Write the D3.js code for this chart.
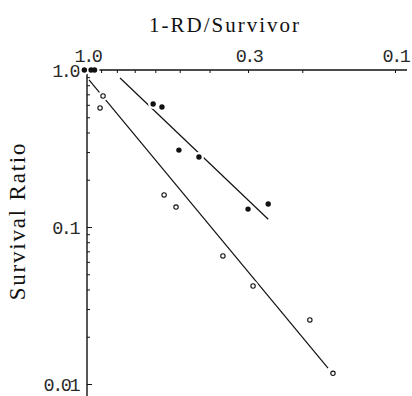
<!DOCTYPE html>
<html>
<head>
<meta charset="utf-8">
<script src="https://cdn.jsdelivr.net/npm/d3@7"></script>
<style>
  html, body { margin: 0; padding: 0; background: #fff; }
  svg { display: block; }
</style>
</head>
<body>
<svg id="chart" width="412" height="396"></svg>
<script>
// Filled markers: x = 1-RD/Survivor, y = survival ratio
const filledX = [1.02, 0.97, 0.945, 0.61, 0.571, 0.503, 0.433, 0.300, 0.258];
const filledY = [1.0, 1.0, 1.0, 0.607, 0.581, 0.309, 0.279, 0.130, 0.140];

// Open markers
const openX = [0.887, 0.907, 0.562, 0.514, 0.362, 0.289, 0.189, 0.159];
const openY = [0.683, 0.573, 0.160, 0.134, 0.0654, 0.0421, 0.0256, 0.0117];

// Fitted lines (end points)
const filledFitX = [0.781, 0.258];
const filledFitY = [0.889, 0.112];
const openFitX = [0.985, 0.165];
const openFitY = [0.864, 0.01264];

// Axis ticks and labels
const xTicks = [1.0, 0.9, 0.8, 0.7, 0.6, 0.5, 0.4, 0.3, 0.2, 0.1];
const xTickLabels = ["1.0", "0.3", "0.1"];
const yTicks = [1.0, 0.9, 0.8, 0.7, 0.6, 0.5, 0.4, 0.3, 0.2,
                0.1, 0.09, 0.08, 0.07, 0.06, 0.05, 0.04, 0.03, 0.02, 0.01];
const yTickLabels = ["1.0", "0.1", "0.01"];

const svg = d3.select("#chart");

const x = d3.scaleLog().domain([1.0, 0.1]).range([87, 395]);
const y = d3.scaleLog().domain([1.0, 0.01]).range([70, 384]);

const ink = "#111";
const labelInk = "#2a2a2a";
const labelFont = "'Liberation Mono', 'DejaVu Sans Mono', monospace";
const titleFont = "'Liberation Serif', 'DejaVu Serif', serif";

// Top axis
const xAxis = d3.axisTop(x)
  .tickValues(xTicks)
  .tickSize(-3)
  .tickPadding(8)
  .tickFormat(d => {
    const s = d.toFixed(1);
    return xTickLabels.includes(s) ? s : "";
  });
const gx = svg.append("g").attr("transform", "translate(0,70)").call(xAxis);
gx.select(".domain").remove();
gx.append("line")
  .attr("x1", x(1.0)).attr("x2", x(0.0914))
  .attr("stroke", ink).attr("stroke-width", 1.4);

// Left axis
const yAxis = d3.axisLeft(y)
  .tickValues(yTicks)
  .tickSize(-3)
  .tickPadding(9)
  .tickFormat(d => {
    const s = d >= 1 ? "1.0" : d >= 0.1 ? d.toFixed(1) : d.toFixed(2);
    return yTickLabels.includes(s) ? s : "";
  });
const gy = svg.append("g").attr("transform", "translate(87,0)").call(yAxis);
gy.select(".domain").remove();
gy.append("line")
  .attr("y1", y(1.0)).attr("y2", y(0.0084))
  .attr("stroke", ink).attr("stroke-width", 1.4);

[gx, gy].forEach(g => {
  g.selectAll(".tick line").attr("stroke", ink).attr("stroke-width", 1);
  g.selectAll(".tick text")
    .attr("fill", labelInk)
    .style("font-family", labelFont)
    .style("font-size", "18.5px")
    .style("letter-spacing", "-2.5px");
});
gy.selectAll(".tick text").attr("dy", "0.34em");
// Major y ticks slightly longer
gy.selectAll(".tick").filter(d => [1, 0.1, 0.01].includes(d))
  .select("line").attr("x2", 5);

// Titles
svg.append("text")
  .attr("x", 225).attr("y", 32)
  .attr("text-anchor", "middle")
  .attr("fill", ink)
  .style("font-family", titleFont)
  .style("font-size", "21px")
  .style("letter-spacing", "2px")
  .text("1-RD/Survivor");

svg.append("text")
  .attr("transform", "translate(25,221) rotate(-90)")
  .attr("text-anchor", "middle")
  .attr("fill", ink)
  .style("font-family", titleFont)
  .style("font-size", "23px")
  .style("letter-spacing", "1.8px")
  .text("Survival Ratio");

// Fitted lines
const fit = d3.line().x(d => x(d[0])).y(d => y(d[1]));
svg.append("path")
  .attr("d", fit(d3.zip(filledFitX, filledFitY)))
  .attr("fill", "none").attr("stroke", ink).attr("stroke-width", 1.2);
svg.append("path")
  .attr("d", fit(d3.zip(openFitX, openFitY)))
  .attr("fill", "none").attr("stroke", ink).attr("stroke-width", 1.2);

// Markers with a white halo where they cross the lines
const filledPts = d3.zip(filledX, filledY);
const openPts = d3.zip(openX, openY);

svg.append("g").selectAll("circle")
  .data(filledPts.concat(openPts))
  .join("circle")
  .attr("cx", d => x(d[0])).attr("cy", d => y(d[1]))
  .attr("r", 5).attr("fill", "#fff");

svg.append("g").selectAll("circle")
  .data(filledPts)
  .join("circle")
  .attr("cx", d => x(d[0])).attr("cy", d => y(d[1]))
  .attr("r", 2.7).attr("fill", ink);

svg.append("g").selectAll("circle")
  .data(openPts)
  .join("circle")
  .attr("cx", d => x(d[0])).attr("cy", d => y(d[1]))
  .attr("r", 2.2).attr("fill", "#fff")
  .attr("stroke", ink).attr("stroke-width", 1.1);
</script>
</body>
</html>
